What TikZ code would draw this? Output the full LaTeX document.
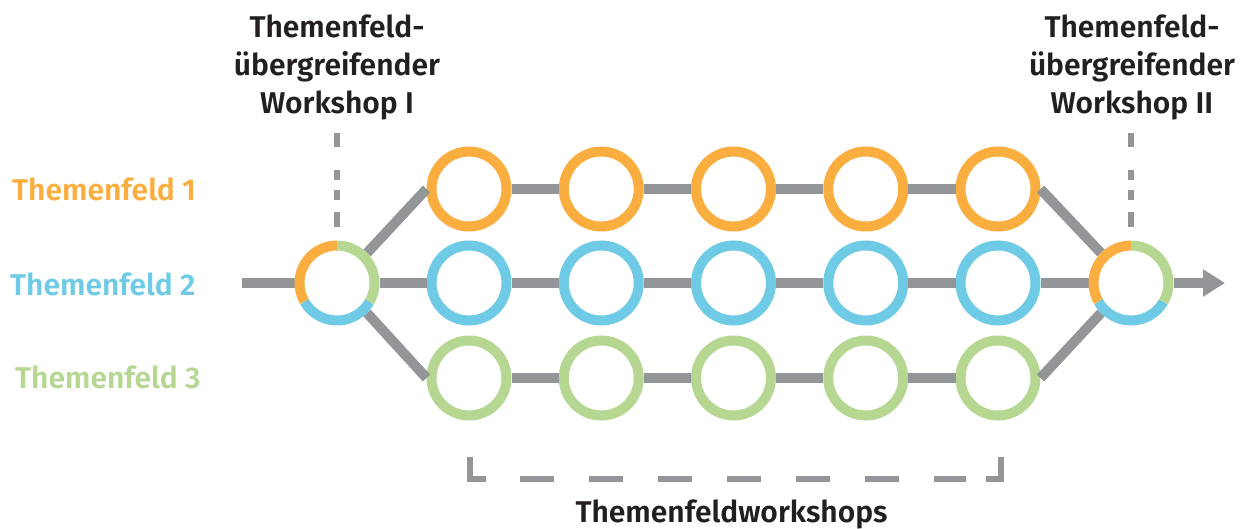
\documentclass[tikz,border=0pt]{standalone}
\usepackage{fontspec}
\setmainfont{Fira Sans}[BoldFont={Fira Sans SemiBold}]
\usetikzlibrary{arrows.meta}
\definecolor{tforange}{HTML}{FAAE40}
\definecolor{tfblue}{HTML}{6FCAE5}
\definecolor{tfgreen}{HTML}{B5D791}
\definecolor{tfgray}{HTML}{939598}
\definecolor{tfblack}{HTML}{231F20}
\begin{document}
\begin{tikzpicture}
 [x=1pt,y=1pt,
  ring/.style={circle,draw=#1,line width=10pt,fill=white,minimum size=75pt,inner sep=0pt},
  hub/.style={circle,minimum size=75pt,inner sep=0pt,outer sep=5pt},
  seg/.style={line width=10pt,draw=#1},
  link/.style={draw=tfgray,line width=10pt},
  guide/.style={draw=tfgray,line width=6pt},
  title/.style={font=\fontsize{30}{37.7}\selectfont\bfseries,text=tfblack,align=center,inner sep=0pt},
  field/.style={font=\fontsize{30}{36}\selectfont\bfseries,text=#1,inner sep=0pt,anchor=base west}]
  \useasboundingbox (0,0) rectangle (1245,-528);

  \node[title,anchor=base] (t1) at (337,-113) {Themenfeld-\\übergreifender\\Workshop I};
  \node[title,anchor=base] (t2) at (1132,-113) {Themenfeld-\\übergreifender\\Workshop II};
  \node[field=tforange] (f1) at (12,-200) {Themenfeld 1};
  \node[field=tfblue] (f2) at (10,-295) {Themenfeld 2};
  \node[field=tfgreen] (f3) at (15,-388) {Themenfeld 3};
  \node[title,anchor=base] (tw) at (731.5,-522.7) {Themenfeldworkshops};

  \coordinate (src) at (242,-283);
  \coordinate (dst) at (1225,-283);
  \node[hub] (w1) at (337,-283) {};
  \node[hub] (w2) at (1131,-283) {};

  \foreach \i in {1,...,5} {
    \node[ring=tforange] (o\i) at ({469+132.25*(\i-1)},-189) {};
    \node[ring=tfblue] (b\i) at ({469+132.25*(\i-1)},-283) {};
    \node[ring=tfgreen] (g\i) at ({469+132.25*(\i-1)},-378) {};
  }

  \foreach \r in {o,b,g}
    \foreach \from/\to in {1/2,2/3,3/4,4/5}
      \draw[link] (\r\from) -- (\r\to);

  \foreach \from/\to in {src/w1,w1/b1,w1.45/o1.west,w1.-45/g1.west,o5.east/w2.135,g5.east/w2.-135,b5/w2}
    \draw[link] (\from) -- (\to);
  \draw[link,-{Triangle[length=22pt,width=26pt]}] (w2) -- (dst);

  \foreach \w in {w1,w2} {
    \draw[seg=tforange] (\w.center) ++(90:37.5) arc[start angle=90,end angle=210,radius=37.5];
    \draw[seg=tfblue] (\w.center) ++(210:37.5) arc[start angle=210,end angle=330,radius=37.5];
    \draw[seg=tfgreen] (\w.center) ++(330:37.5) arc[start angle=330,end angle=450,radius=37.5];
  }

  \coordinate (d1a) at (337,-133);
  \coordinate (d1b) at (337,-227);
  \coordinate (d2a) at (1131,-133);
  \coordinate (d2b) at (1131,-227);
  \draw[guide,dash pattern=on 14pt off 23pt on 10pt off 10pt on 10pt off 12pt on 15pt] (d1a) -- (d1b);
  \draw[guide,dash pattern=on 14pt off 23pt on 10pt off 10pt on 10pt off 12pt on 15pt] (d2a) -- (d2b);

  \coordinate (bl) at (470,-457);
  \coordinate (br) at (1001,-457);
  \draw[guide] (bl) |- (486,-479);
  \draw[guide] (986,-479) -| (br);
  \draw[guide,dash pattern=on 34pt off 35pt] (520,-479) -- (966,-479);
\end{tikzpicture}
\end{document}
